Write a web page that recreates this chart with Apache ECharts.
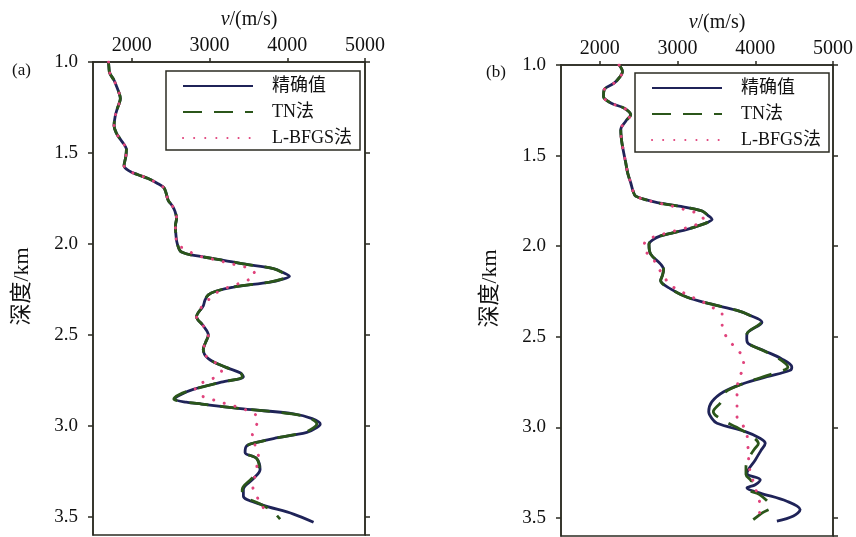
<!DOCTYPE html>
<html>
<head>
<meta charset="utf-8">
<script src="https://cdn.jsdelivr.net/npm/echarts@6/dist/echarts.min.js"></script>
<style>html,body{margin:0;padding:0;background:#fff}#c{width:856px;height:537px}</style>
</head>
<body>
<div id="c"></div>
<script>
// tick labels
const velocityTicks = [2000, 3000, 4000, 5000];
const seriesNames = ['精确值', 'TN法', 'L-BFGS法'];

// panel (a): [velocity m/s, depth km]
const trueA = [[1700,1.00],[1705,1.03],[1715,1.06],[1770,1.10],[1800,1.13],[1835,1.17],[1852,1.20],[1835,1.23],[1810,1.26],[1785,1.30],[1771,1.35],[1800,1.39],[1844,1.42],[1895,1.45],[1930,1.48],[1922,1.52],[1900,1.57],[1970,1.60],[2080,1.62],[2210,1.64],[2320,1.665],[2410,1.69],[2440,1.72],[2468,1.76],[2520,1.79],[2554,1.82],[2575,1.86],[2560,1.90],[2567,1.95],[2585,2.00],[2640,2.045],[2900,2.07],[3180,2.09],[3435,2.11],[3822,2.136],[3960,2.16],[4028,2.178],[3930,2.195],[3780,2.21],[3306,2.237],[3080,2.26],[2984,2.28],[2940,2.31],[2919,2.34],[2833,2.40],[2919,2.45],[2984,2.50],[2950,2.54],[2919,2.58],[2984,2.63],[3220,2.68],[3400,2.71],[3435,2.73],[3150,2.76],[2790,2.80],[2620,2.83],[2554,2.852],[2700,2.87],[2900,2.88],[3435,2.907],[4080,2.934],[4320,2.96],[4424,2.99],[4380,3.01],[4252,3.036],[3822,3.07],[3620,3.09],[3478,3.11],[3457,3.146],[3607,3.18],[3650,3.24],[3564,3.29],[3435,3.35],[3435,3.385],[3650,3.43],[4080,3.485],[4338,3.53]];
const tnA = [[1700,1.00],[1705,1.03],[1715,1.06],[1770,1.10],[1800,1.13],[1835,1.17],[1852,1.20],[1835,1.23],[1810,1.26],[1785,1.30],[1771,1.35],[1800,1.39],[1844,1.42],[1895,1.45],[1930,1.48],[1922,1.52],[1900,1.57],[1970,1.60],[2080,1.62],[2210,1.64],[2320,1.665],[2410,1.69],[2440,1.72],[2468,1.76],[2520,1.79],[2554,1.82],[2575,1.86],[2560,1.90],[2567,1.95],[2585,2.00],[2640,2.045],[2900,2.07],[3180,2.09],[3435,2.11],[3822,2.136],[3950,2.16],[4010,2.178],[3920,2.195],[3770,2.21],[3306,2.237],[3080,2.26],[2984,2.28],[2940,2.31],[2919,2.34],[2833,2.40],[2919,2.45],[2984,2.50],[2950,2.54],[2919,2.58],[2984,2.63],[3220,2.68],[3400,2.71],[3420,2.73],[3150,2.76],[2790,2.80],[2600,2.83],[2540,2.852],[2700,2.87],[2900,2.88],[3435,2.907],[4060,2.934],[4300,2.96],[4380,2.99],[4340,3.01],[4220,3.036],[3822,3.07],[3620,3.09],[3478,3.11],[3457,3.146],[3607,3.18],[3640,3.24],[3540,3.29],[3420,3.35],[3440,3.385],[3650,3.43],[3780,3.46],[3860,3.49],[3908,3.513]];
const lbfgsA = [[1700,1.00],[1705,1.03],[1715,1.06],[1770,1.10],[1800,1.13],[1835,1.17],[1852,1.20],[1835,1.23],[1810,1.26],[1785,1.30],[1771,1.35],[1800,1.39],[1844,1.42],[1895,1.45],[1930,1.48],[1922,1.52],[1900,1.57],[1970,1.60],[2080,1.62],[2210,1.64],[2320,1.665],[2410,1.69],[2440,1.72],[2468,1.76],[2520,1.79],[2554,1.82],[2575,1.86],[2560,1.90],[2567,1.95],[2575,1.998],[2700,2.03],[2833,2.063],[2984,2.078],[3150,2.095],[3328,2.114],[3487,2.131],[3560,2.15],[3586,2.167],[3540,2.185],[3470,2.204],[3306,2.228],[3120,2.26],[3039,2.289],[2930,2.33],[2833,2.40],[2919,2.45],[2984,2.50],[2950,2.54],[2919,2.58],[2984,2.63],[3100,2.66],[3155,2.696],[3070,2.733],[2919,2.76],[2812,2.79],[2897,2.834],[3048,2.857],[3212,2.879],[3371,2.898],[3560,2.93],[3629,2.962],[3586,3.012],[3543,3.067],[3600,3.118],[3629,3.17],[3610,3.22],[3586,3.274],[3555,3.329],[3600,3.384],[3672,3.43],[3715,3.485]];

// panel (b): [velocity m/s, depth km]
const trueB = [[2248,1.00],[2291,1.037],[2250,1.07],[2183,1.10],[2055,1.137],[2047,1.174],[2141,1.21],[2312,1.238],[2397,1.275],[2333,1.31],[2269,1.357],[2275,1.40],[2291,1.449],[2333,1.54],[2360,1.60],[2397,1.65],[2430,1.70],[2461,1.724],[2600,1.745],[2739,1.76],[3124,1.787],[3316,1.806],[3390,1.83],[3444,1.852],[3380,1.87],[3250,1.89],[3124,1.907],[2950,1.925],[2782,1.943],[2680,1.965],[2632,1.989],[2654,2.044],[2782,2.099],[2820,2.13],[2804,2.163],[2782,2.19],[2910,2.236],[3124,2.282],[3423,2.319],[3765,2.355],[3920,2.38],[4086,2.42],[3893,2.484],[3890,2.51],[3910,2.538],[4130,2.58],[4330,2.62],[4470,2.667],[4449,2.685],[4150,2.721],[3850,2.758],[3594,2.804],[3440,2.86],[3401,2.914],[3440,2.95],[3508,2.978],[3872,3.024],[4060,3.06],[4128,3.088],[4070,3.13],[4000,3.18],[3893,3.253],[4064,3.29],[4000,3.317],[3893,3.335],[4064,3.363],[4406,3.408],[4577,3.454],[4491,3.49],[4278,3.518]];
const tnB = [[2248,1.00],[2291,1.037],[2250,1.07],[2183,1.10],[2055,1.137],[2047,1.174],[2141,1.21],[2312,1.238],[2397,1.275],[2333,1.31],[2269,1.357],[2275,1.40],[2291,1.449],[2333,1.54],[2360,1.60],[2397,1.65],[2430,1.70],[2461,1.724],[2600,1.745],[2739,1.76],[3124,1.787],[3316,1.806],[3390,1.83],[3444,1.852],[3380,1.87],[3250,1.89],[3124,1.907],[2950,1.925],[2782,1.943],[2680,1.965],[2632,1.989],[2654,2.044],[2782,2.099],[2820,2.13],[2804,2.163],[2782,2.19],[2910,2.236],[3124,2.282],[3423,2.319],[3765,2.355],[3920,2.38],[4070,2.42],[3893,2.484],[3890,2.51],[3910,2.538],[4120,2.58],[4300,2.62],[4420,2.667],[4250,2.70],[3850,2.758],[3600,2.81],[3560,2.86],[3460,2.914],[3580,2.96],[3760,3.00],[3958,3.05],[4040,3.09],[3990,3.12],[3930,3.16],[3880,3.22],[3880,3.26],[3950,3.30],[3900,3.34],[4050,3.37],[4160,3.41],[4210,3.44],[4100,3.47],[3974,3.51]];
const lbfgsB = [[2248,1.00],[2291,1.037],[2250,1.07],[2183,1.10],[2055,1.137],[2047,1.174],[2141,1.21],[2312,1.238],[2397,1.275],[2333,1.31],[2269,1.357],[2275,1.40],[2291,1.449],[2333,1.54],[2360,1.60],[2397,1.65],[2430,1.70],[2461,1.724],[2600,1.745],[2739,1.76],[2940,1.78],[3081,1.797],[3231,1.815],[3300,1.835],[3337,1.852],[3280,1.87],[3209,1.888],[3038,1.907],[2888,1.925],[2739,1.943],[2590,1.971],[2568,2.016],[2676,2.062],[2739,2.114],[2824,2.163],[2888,2.209],[3026,2.245],[3167,2.278],[3308,2.304],[3444,2.337],[3573,2.374],[3573,2.429],[3603,2.48],[3680,2.53],[3778,2.575],[3850,2.624],[3842,2.676],[3786,2.731],[3770,2.78],[3765,2.831],[3765,2.886],[3765,2.941],[3842,2.99],[3893,3.042],[3901,3.093],[3914,3.148],[3914,3.207],[3950,3.26],[3978,3.308],[4021,3.363],[4055,3.418],[4055,3.473],[4055,3.518]];

const FRAME = '#2b2b22';
const SERIF = '"Liberation Serif", "Noto Sans CJK SC", serif';
const C_TRUE = '#1f2358', C_TN = '#2b561a', C_LB = '#e0437c';

function xAx(gi) {
  return {
    gridIndex: gi, type: 'value', position: 'top', min: 1500, max: 5000,
    name: '{i|v}/(m/s)', nameLocation: 'middle', nameGap: 32,
    nameTextStyle: { fontFamily: SERIF, fontSize: 20, color: '#111', padding: [0, 0, 0, 40],
      rich: { i: { fontFamily: SERIF, fontSize: 20, fontStyle: 'italic', color: '#111' } } },
    axisLine: { show: true, lineStyle: { color: FRAME, width: 1.5 } },
    axisTick: { show: true, inside: false, length: 4, customValues: velocityTicks, lineStyle: { color: FRAME, width: 1.5 } },
    axisLabel: { customValues: velocityTicks, fontFamily: SERIF, fontSize: 20, color: '#111', margin: 6,
      formatter: v => String(v) },
    splitLine: { show: false }
  };
}
function yAx(gi, right) {
  return {
    gridIndex: gi, type: 'value', inverse: true, min: 1.0, max: 3.6, interval: 0.5,
    position: right ? 'right' : 'left',
    name: right ? '' : '深度/km', nameLocation: 'middle', nameGap: 60,
    nameTextStyle: { fontFamily: SERIF, fontSize: 22, color: '#111', padding: [0, 0, 0, 24] },
    axisLine: { show: true, lineStyle: { color: FRAME, width: 1.5 } },
    axisTick: { show: true, inside: false, length: 5, lineStyle: { color: FRAME, width: 1.5 } },
    axisLabel: { show: !right, fontFamily: SERIF, fontSize: 19, color: '#111', margin: 15,
      formatter: v => v.toFixed(1) },
    splitLine: { show: false }
  };
}
function ser(name, data, xi, yi, kind) {
  const ls = kind === 'true' ? { color: C_TRUE, width: 2.8, type: 'solid' }
    : kind === 'tn' ? { color: C_TN, width: 2.8, type: [19, 12] }
    : { color: C_LB, width: 3, type: [0.1, 11], cap: 'round' };
  return { name, type: 'line', xAxisIndex: xi, yAxisIndex: yi, data, symbol: 'none', smooth: 0.35,
    itemStyle: { color: ls.color }, lineStyle: ls, z: kind === 'lb' ? 4 : (kind === 'tn' ? 3 : 2), animation: false };
}
function legend(left, top) {
  return {
    orient: 'vertical', left, top, data: seriesNames, itemWidth: 70, itemHeight: 14, itemGap: 8,
    padding: [6, 8, 3, 16], borderColor: FRAME, borderWidth: 1.5, borderRadius: 0, backgroundColor: '#fff',
    selectedMode: false, itemStyle: { opacity: 0 },
    textStyle: { fontFamily: SERIF, fontSize: 18, color: '#111', padding: [0, 0, 0, 14] }
  };
}

const chart = echarts.init(document.getElementById('c'), null, { renderer: 'canvas' });
chart.setOption({
  backgroundColor: '#fff',
  animation: false,
  title: [
    { text: '(a)', left: 7, top: 57, textStyle: { fontFamily: SERIF, fontSize: 17, fontWeight: 'normal', color: '#111' } },
    { text: '(b)', left: 481, top: 59, textStyle: { fontFamily: SERIF, fontSize: 17, fontWeight: 'normal', color: '#111' } }
  ],
  grid: [
    { left: 93, top: 62, width: 272, height: 473, show: true, borderColor: FRAME, borderWidth: 1.5, backgroundColor: 'transparent' },
    { left: 561, top: 65, width: 273, height: 471, show: true, borderColor: FRAME, borderWidth: 1.5, backgroundColor: 'transparent' }
  ],
  xAxis: [xAx(0), xAx(1)],
  yAxis: [yAx(0, false), yAx(0, true), yAx(1, false), yAx(1, true)],
  legend: [legend(166, 71), legend(635, 73)],
  series: [
    ser('精确值', trueA, 0, 0, 'true'), ser('TN法', tnA, 0, 0, 'tn'), ser('L-BFGS法', lbfgsA, 0, 0, 'lb'),
    ser('精确值', trueB, 1, 2, 'true'), ser('TN法', tnB, 1, 2, 'tn'), ser('L-BFGS法', lbfgsB, 1, 2, 'lb')
  ]
});
</script>
</body>
</html>
